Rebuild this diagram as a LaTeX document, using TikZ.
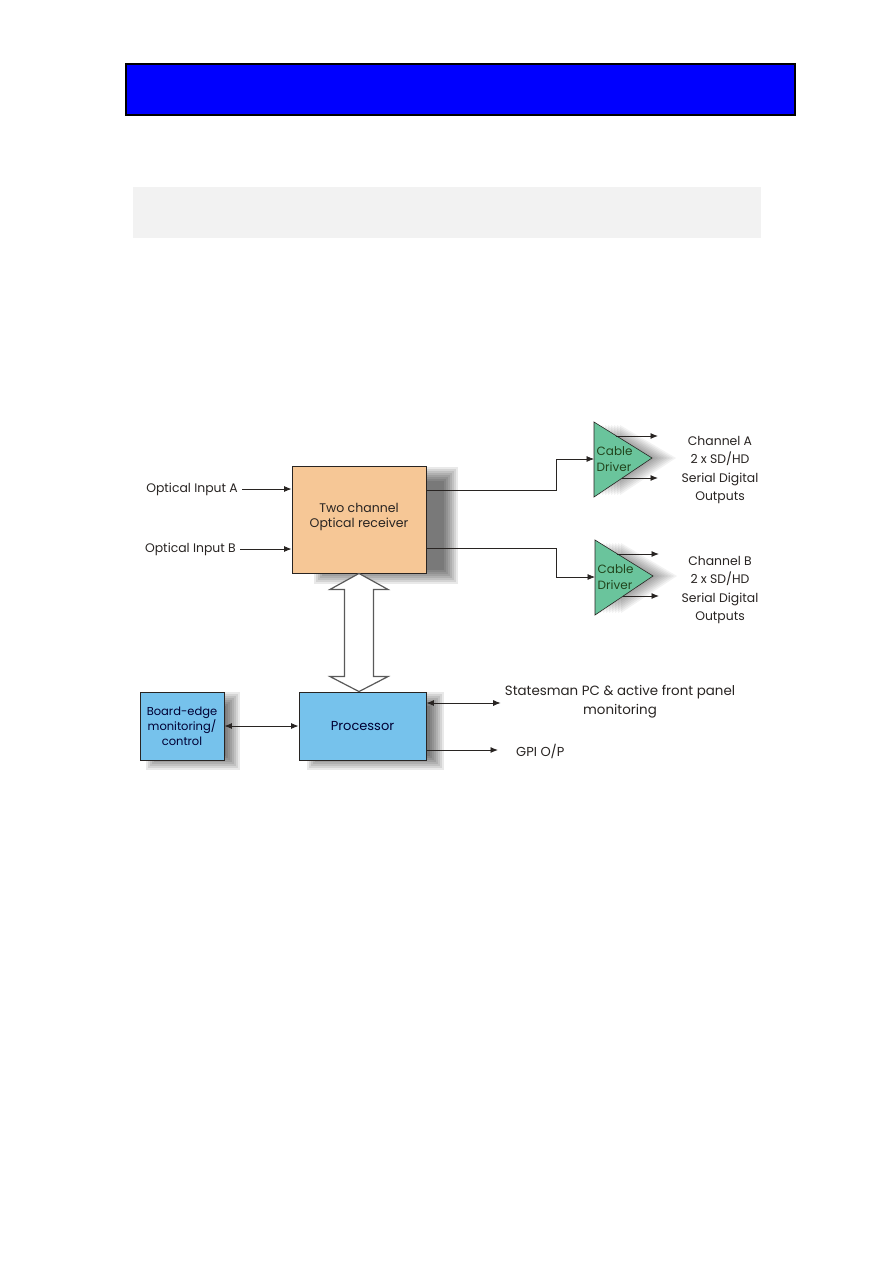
\documentclass[tikz,border=0pt]{standalone}
\usepackage{fontspec}
\setmainfont{Poppins}
\usetikzlibrary{arrows.meta,calc,positioning}
\definecolor{bannerblue}{RGB}{0,0,255}
\definecolor{bandgray}{RGB}{242,242,242}
\definecolor{rxorange}{RGB}{246,199,150}
\definecolor{procblue}{RGB}{118,194,236}
\definecolor{drvgreen}{RGB}{106,196,156}
\definecolor{inkdark}{RGB}{40,36,34}
% soft shadow behind a box node: node, dx, dy
\newcommand{\softshadow}[3]{%
  \foreach \s in {0,...,7}
    \fill[black,opacity=0.085] ($(#1.north west)+(#2-5+2*\s,#3-5+2*\s)$) rectangle ($(#1.south east)+(#2+5-2*\s,#3+5-2*\s)$);
}
% cable driver triangle, left edge centre at (#2,#3)
\newcommand{\cabledriver}[3]{%
  \coordinate (#1) at (#2,#3);
  \foreach \s in {1,...,8}
    \fill[black,opacity=0.05] ($(#1)+(2+3*\s,-34)$) -- ($(#1)+(58+3*\s,-1)$) -- ($(#1)+(2+3*\s,36)$) -- cycle;
  \draw[drvshape] ($(#1)+(0,-37)$) -- ($(#1)+(58,-1)$) -- ($(#1)+(0,38)$) -- cycle;
  \node[drvtext, anchor=west] (#1txt) at ($(#1)+(0,0)$) {Cable\\Driver};
  \draw[arr] ($(#1)+(22,-23)$) -- ($(#1)+(64,-23)$);
  \draw[arr] ($(#1)+(28,19)$) -- ($(#1)+(64,19)$);
}

\begin{document}
\begin{tikzpicture}[x=1pt,y=-1pt,
  lbl/.style={font=\fontsize{12.4}{18.5}\selectfont, text=inkdark, inner sep=4pt, align=center},
  rxbox/.style={draw=inkdark, line width=0.9pt, fill=rxorange, minimum width=134pt, minimum height=107pt,
    font=\fontsize{12.5}{15.5}\selectfont, text=inkdark, align=center, text depth=8pt},
  bluebox/.style={draw=inkdark, line width=0.9pt, fill=procblue, minimum height=68pt, align=center,
    text=black!80!blue},
  drvshape/.style={draw=inkdark, line width=0.6pt, fill=drvgreen},
  drvtext/.style={font=\fontsize{12}{16}\selectfont, text=inkdark!85!green, inner sep=2.5pt, align=left},
  arr/.style={draw=inkdark, line width=0.9pt, -{Latex[length=7.5pt,width=6pt]}},
  dblarr/.style={draw=inkdark, line width=0.9pt, {Latex[length=7.5pt,width=6pt]}-{Latex[length=7.5pt,width=6pt]}},
  busarrow/.style={draw=black!65, line width=1.2pt, fill=white, line join=miter}]
\useasboundingbox (0,0) rectangle (893,1263);
\fill[white] (0,0) rectangle (893,1263);

% header bars
\filldraw[fill=bannerblue, draw=black, line width=1.2pt] (126,64) rectangle (795,115);
\fill[bandgray] (133,187) rectangle (761,238);

% receiver, processor, board edge
\node[rxbox] (rx) at (359,519.5) {Two channel\\Optical receiver};
\node[bluebox, minimum width=127pt, font=\fontsize{13}{16}\selectfont] (proc) at (362.5,726) {Processor};
\node[bluebox, minimum width=84pt, font=\fontsize{11.5}{15}\selectfont] (board) at (182,726) {Board-edge\\monitoring/\\control};

% shadows go first, boxes drawn again on top
\softshadow{rx}{27}{6}
\softshadow{proc}{13}{5}
\softshadow{board}{11}{5}
\node[rxbox] at (rx) {Two channel\\Optical receiver};
\node[bluebox, minimum width=127pt, font=\fontsize{13}{16}\selectfont] at (proc) {Processor};
\node[bluebox, minimum width=84pt, font=\fontsize{11.5}{15}\selectfont] at (board) {Board-edge\\monitoring/\\control};

% inputs
\node[lbl, anchor=east] (inA) at (242,489) {Optical Input A};
\node[lbl, anchor=east] (inB) at (240,549) {Optical Input B};
\draw[arr] (inA.east) -- (inA.east -| rx.west);
\draw[arr] (inB.east) -- (inB.east -| rx.west);

% cable drivers
\cabledriver{cdA}{594}{459}
\cabledriver{cdB}{595}{577}
\node[lbl] (chA) at ($(cdA)+(126,11)$) {Channel A\\2 x SD/HD\\Serial Digital\\Outputs};
\node[lbl] (chB) at ($(cdB)+(125,13)$) {Channel B\\2 x SD/HD\\Serial Digital\\Outputs};

\draw[arr, line width=0.7pt] ([yshift=29.5pt]rx.east) -| ($(cdA)+(-38,0)$) -- (cdA);
\draw[arr, line width=0.7pt] ([yshift=-28.5pt]rx.east) -| ($(cdB)+(-39,0)$) -- (cdB);

% wide bus arrow
\coordinate (bt) at (rx.south);
\coordinate (bb) at (rx.south |- proc.north);
\draw[busarrow] (bt) -- ($(bt)+(29,16)$) -- ($(bt)+(14.5,16)$) -- ($(bb)+(14.5,-15)$) -- ($(bb)+(29,-15)$)
  -- (bb) -- ($(bb)+(-29,-15)$) -- ($(bb)+(-14.5,-15)$) -- ($(bt)+(-14.5,16)$) -- ($(bt)+(-29,16)$) -- cycle;

% processor links
\node[lbl, font=\fontsize{13.4}{19}\selectfont] (pc) at (620,702) {Statesman PC \& active front panel\\monitoring};
\node[lbl, font=\fontsize{13}{16}\selectfont, anchor=west] (gpi) at (512,751) {GPI O/P};
\draw[dblarr] (board) -- (proc);
\draw[dblarr] ([yshift=23pt]proc.east) -- ([yshift=23pt]proc.east -| pc.west);
\draw[arr] ([yshift=-24pt]proc.east) -- ([yshift=-24pt]proc.east -| gpi.west) [shorten >=14pt];
\end{tikzpicture}
\end{document}
